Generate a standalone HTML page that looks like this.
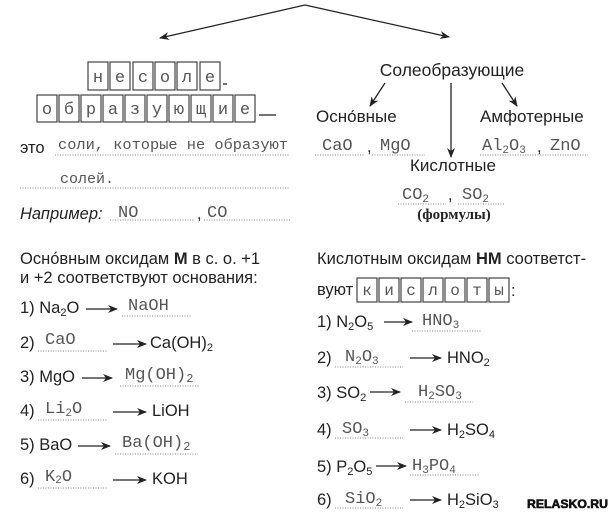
<!DOCTYPE html>
<html><head><meta charset="utf-8"><style>
html,body{margin:0;padding:0;background:#fff;}
svg{display:block;}
.s{font-family:"Liberation Sans","DejaVu Sans",sans-serif;font-size:16.5px;fill:#222;}
.m{font-family:"Liberation Mono","DejaVu Sans Mono",monospace;font-size:17px;fill:#555;}
.b{font-family:"Liberation Mono",monospace;fill:#555;}
.d{stroke:#888;stroke-width:1;stroke-dasharray:1,1.5;}
.l{stroke:#222;stroke-width:1.3;fill:none;}
.bx{fill:#fff;stroke:#444;stroke-width:1.2;}
</style></head><body>
<svg width="613" height="514" viewBox="0 0 613 514" xmlns="http://www.w3.org/2000/svg">
<defs><marker id="a" markerWidth="10" markerHeight="8" refX="9" refY="4" orient="auto" markerUnits="userSpaceOnUse"><path d="M0,0 L10,4 L0,8 L3,4z" fill="#222"/></marker></defs>
<line x1="305" y1="5" x2="160" y2="38" class="l" marker-end="url(#a)"/>
<line x1="305" y1="5" x2="449" y2="37" class="l" marker-end="url(#a)"/>

<g class="bx">
<rect x="88" y="62" width="20" height="28"/><rect x="110" y="62" width="20" height="28"/><rect x="133" y="62" width="20" height="28"/><rect x="155" y="62" width="20" height="28"/><rect x="177" y="62" width="20" height="28"/><rect x="200" y="62" width="20" height="28"/>
<rect x="37" y="95" width="20" height="27"/><rect x="59" y="95" width="20" height="27"/><rect x="81" y="95" width="20" height="27"/><rect x="103" y="95" width="20" height="27"/><rect x="125" y="95" width="20" height="27"/><rect x="147" y="95" width="20" height="27"/><rect x="169" y="95" width="20" height="27"/><rect x="191" y="95" width="20" height="27"/><rect x="213" y="95" width="20" height="27"/><rect x="235" y="95" width="20" height="27"/>
</g>
<g class="b" text-anchor="middle" style="font-size:17px">
<text x="98" y="82">н</text><text x="120" y="82">е</text><text x="143" y="82">с</text><text x="165" y="82">о</text><text x="187" y="82">л</text><text x="210" y="82">е</text>
<text x="47" y="114">о</text><text x="69" y="114">б</text><text x="91" y="114">р</text><text x="113" y="114">а</text><text x="135" y="114">з</text><text x="157" y="114">у</text><text x="179" y="114">ю</text><text x="201" y="114">щ</text><text x="223" y="114">и</text><text x="245" y="114">е</text>
</g>
<line x1="223" y1="84" x2="227" y2="84" class="l"/>
<line x1="259" y1="115" x2="276" y2="115" class="l"/>

<text x="20" y="153" class="s">это</text>
<text x="58" y="149" class="m" style="font-size:15px" textLength="230" lengthAdjust="spacingAndGlyphs">соли, которые не образуют</text>
<line x1="55" y1="155" x2="290" y2="155" class="d"/>
<text x="60" y="183" class="m" style="font-size:15px">солей.</text>
<line x1="20" y1="188" x2="290" y2="188" class="d"/>
<text x="20" y="219" class="s" font-style="italic">Например:</text>
<text x="118" y="217" class="m">NO</text>
<line x1="110" y1="220" x2="195" y2="220" class="d"/>
<text x="197" y="219" class="s">,</text>
<text x="207" y="217" class="m">CO</text>
<line x1="204" y1="220" x2="290" y2="220" class="d"/>

<text x="452" y="76" class="s" text-anchor="middle" style="font-size:17.5px">Солеобразующие</text>
<line x1="385" y1="83" x2="370" y2="106" class="l" marker-end="url(#a)"/>
<line x1="451" y1="83" x2="451" y2="157" class="l" marker-end="url(#a)"/>
<line x1="502" y1="83" x2="517" y2="106" class="l" marker-end="url(#a)"/>
<text x="316" y="122" class="s" style="font-size:17px">Осно́вные</text>
<text x="480" y="122" class="s" style="font-size:17px">Амфотерные</text>
<text x="322" y="150" class="m">CaO</text>
<line x1="315" y1="155" x2="365" y2="155" class="d"/>
<text x="367" y="152" class="s">,</text>
<text x="380" y="150" class="m">MgO</text>
<line x1="372" y1="155" x2="425" y2="155" class="d"/>
<text x="482" y="150" class="m">Al<tspan font-size="11" dy="3">2</tspan><tspan dy="-3">O</tspan><tspan font-size="11" dy="3">3</tspan></text>
<text x="537" y="152" class="s">,</text>
<text x="550" y="150" class="m">ZnO</text>
<line x1="480" y1="155" x2="588" y2="155" class="d"/>
<text x="410" y="171" class="s" style="font-size:17px">Кислотные</text>
<text x="402" y="199" class="m">CO<tspan font-size="11" dy="3">2</tspan></text>
<line x1="398" y1="204" x2="446" y2="204" class="d"/>
<text x="448" y="200" class="s">,</text>
<text x="462" y="199" class="m">SO<tspan font-size="11" dy="3">2</tspan></text>
<line x1="458" y1="204" x2="505" y2="204" class="d"/>
<text x="454" y="219" font-family="Liberation Serif,serif" font-weight="bold" font-size="15" text-anchor="middle" fill="#222">(формулы)</text>

<text x="20" y="264" class="s">Осно́вным оксидам <tspan font-weight="bold">М</tspan> в  с. о. +1</text>
<text x="20" y="283" class="s">и +2 соответствуют основания:</text>

<g class="s">
<text x="20" y="313">1) Na<tspan font-size="11" dy="3">2</tspan><tspan dy="-3">O</tspan></text>
<text x="20" y="348">2)</text>
<text x="20" y="382">3) MgO</text>
<text x="20" y="416">4)</text>
<text x="20" y="450">5) BaO</text>
<text x="20" y="484">6)</text>
<text x="150" y="348">Ca(OH)<tspan font-size="11" dy="3">2</tspan></text>
<text x="152" y="416">LiOH</text>
<text x="152" y="484">KOH</text>
</g>
<line x1="86" y1="309" x2="117" y2="309" class="l" marker-end="url(#a)"/>
<line x1="113" y1="344" x2="146" y2="344" class="l" marker-end="url(#a)"/>
<line x1="82" y1="378" x2="112" y2="378" class="l" marker-end="url(#a)"/>
<line x1="113" y1="412" x2="146" y2="412" class="l" marker-end="url(#a)"/>
<line x1="78" y1="446" x2="110" y2="446" class="l" marker-end="url(#a)"/>
<line x1="113" y1="480" x2="146" y2="480" class="l" marker-end="url(#a)"/>
<g class="m">
<text x="128" y="310">NaOH</text>
<text x="45" y="344">CaO</text>
<text x="125" y="379">Mg(OH)<tspan font-size="12" dy="3">2</tspan></text>
<text x="45" y="413">Li<tspan font-size="11" dy="3">2</tspan><tspan dy="-3">O</tspan></text>
<text x="122" y="447">Ba(OH)<tspan font-size="12" dy="3">2</tspan></text>
<text x="45" y="481">K<tspan font-size="11" dy="2">2</tspan><tspan dy="-2">O</tspan></text>
</g>
<line x1="122" y1="316" x2="192" y2="316" class="d"/>
<line x1="38" y1="351" x2="108" y2="351" class="d"/>
<line x1="120" y1="386" x2="200" y2="386" class="d"/>
<line x1="38" y1="420" x2="108" y2="420" class="d"/>
<line x1="115" y1="454" x2="198" y2="454" class="d"/>
<line x1="38" y1="488" x2="108" y2="488" class="d"/>

<text x="317" y="264" class="s">Кислотным оксидам <tspan font-weight="bold">НМ</tspan> соответст-</text>
<text x="317" y="295" class="s">вуют</text>
<g class="bx">
<rect x="357" y="278" width="20" height="24"/><rect x="379" y="278" width="20" height="24"/><rect x="401" y="278" width="20" height="24"/><rect x="423" y="278" width="20" height="24"/><rect x="445" y="278" width="20" height="24"/><rect x="467" y="278" width="20" height="24"/><rect x="489" y="278" width="20" height="24"/>
</g>
<g class="b" text-anchor="middle" style="font-size:16px">
<text x="367" y="295">к</text><text x="389" y="295">и</text><text x="411" y="295">с</text><text x="433" y="295">л</text><text x="455" y="295">о</text><text x="477" y="295">т</text><text x="499" y="295">ы</text>
</g>
<text x="511" y="296" class="s">:</text>

<g class="s">
<text x="317" y="327">1) N<tspan font-size="11" dy="3">2</tspan><tspan dy="-3">O</tspan><tspan font-size="11" dy="3">5</tspan></text>
<text x="317" y="363">2)</text>
<text x="317" y="398">3) SO<tspan font-size="11" dy="3">2</tspan></text>
<text x="317" y="435">4)</text>
<text x="317" y="472">5) P<tspan font-size="11" dy="3">2</tspan><tspan dy="-3">O</tspan><tspan font-size="11" dy="3">5</tspan></text>
<text x="317" y="505">6)</text>
<text x="447" y="363">HNO<tspan font-size="11" dy="3">2</tspan></text>
<text x="447" y="435">H<tspan font-size="11" dy="3">2</tspan><tspan dy="-3">SO</tspan><tspan font-size="11" dy="3">4</tspan></text>
<text x="447" y="505">H<tspan font-size="11" dy="3">2</tspan><tspan dy="-3">SiO</tspan><tspan font-size="11" dy="3">3</tspan></text>
</g>
<line x1="384" y1="322" x2="412" y2="322" class="l" marker-end="url(#a)"/>
<line x1="410" y1="358" x2="441" y2="358" class="l" marker-end="url(#a)"/>
<line x1="370" y1="392" x2="400" y2="392" class="l" marker-end="url(#a)"/>
<line x1="410" y1="430" x2="441" y2="430" class="l" marker-end="url(#a)"/>
<line x1="376" y1="466" x2="406" y2="466" class="l" marker-end="url(#a)"/>
<line x1="410" y1="500" x2="441" y2="500" class="l" marker-end="url(#a)"/>
<g class="m">
<text x="422" y="325">HNO<tspan font-size="11" dy="3">3</tspan></text>
<text x="345" y="361">N<tspan font-size="11" dy="3">2</tspan><tspan dy="-3">O</tspan><tspan font-size="11" dy="3">3</tspan></text>
<text x="418" y="396">H<tspan font-size="11" dy="3">2</tspan><tspan dy="-3">SO</tspan><tspan font-size="11" dy="3">3</tspan></text>
<text x="342" y="433">SO<tspan font-size="11" dy="3">3</tspan></text>
<text x="412" y="470">H<tspan font-size="11" dy="3">3</tspan><tspan dy="-3">PO</tspan><tspan font-size="11" dy="3">4</tspan></text>
<text x="345" y="503">SiO<tspan font-size="11" dy="3">2</tspan></text>
</g>
<line x1="412" y1="331" x2="482" y2="331" class="d"/>
<line x1="335" y1="367" x2="403" y2="367" class="d"/>
<line x1="405" y1="402" x2="473" y2="402" class="d"/>
<line x1="335" y1="438" x2="403" y2="438" class="d"/>
<line x1="410" y1="475" x2="480" y2="475" class="d"/>
<line x1="335" y1="508" x2="403" y2="508" class="d"/>

<text x="527" y="508" font-family="Liberation Sans,sans-serif" font-weight="bold" font-size="12" fill="#111" stroke="#111" stroke-width="0.6" textLength="81" lengthAdjust="spacingAndGlyphs">RELASKO.RU</text>
</svg>
</body></html>
